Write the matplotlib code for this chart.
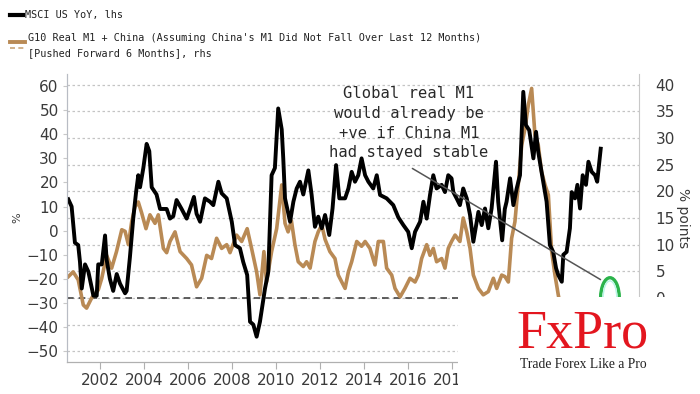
import matplotlib
matplotlib.use("Agg")
import matplotlib.pyplot as plt
from matplotlib.lines import Line2D
from matplotlib.patches import Rectangle, Ellipse

# MSCI US YoY (%), lhs
msci_years = [2000.56, 2000.71, 2000.86, 2001.01, 2001.09, 2001.17, 2001.32, 2001.47, 2001.70, 2001.85,
              2001.92, 2002.08, 2002.23, 2002.30, 2002.45, 2002.60, 2002.76, 2002.91, 2003.14, 2003.21,
              2003.36, 2003.51, 2003.64, 2003.74, 2003.82, 2003.97, 2004.12, 2004.24, 2004.35, 2004.57,
              2004.73, 2005.03, 2005.18, 2005.33, 2005.48, 2005.71, 2005.94, 2006.09, 2006.27, 2006.39,
              2006.55, 2006.77, 2007.00, 2007.15, 2007.38, 2007.53, 2007.76, 2007.99, 2008.14, 2008.36,
              2008.51, 2008.69, 2008.82, 2008.97, 2009.12, 2009.27, 2009.50, 2009.65, 2009.80, 2009.95,
              2010.10, 2010.26, 2010.33, 2010.41, 2010.64, 2010.79, 2010.94, 2011.09, 2011.24, 2011.47,
              2011.62, 2011.77, 2011.92, 2012.08, 2012.23, 2012.42, 2012.57, 2012.73, 2012.88, 2013.14,
              2013.29, 2013.44, 2013.59, 2013.74, 2013.89, 2014.05, 2014.20, 2014.42, 2014.58, 2014.73,
              2015.03, 2015.33, 2015.56, 2015.79, 2016.01, 2016.17, 2016.32, 2016.55, 2016.70, 2016.85,
              2017.00, 2017.15, 2017.30, 2017.53, 2017.68, 2017.83, 2017.98, 2018.06, 2018.21, 2018.36,
              2018.51, 2018.67, 2018.82, 2018.97, 2019.20, 2019.35, 2019.50, 2019.65, 2019.80, 2020.00,
              2020.10, 2020.28, 2020.40, 2020.48, 2020.64, 2020.79, 2020.94, 2021.09, 2021.24, 2021.36,
              2021.51, 2021.70, 2021.82, 2021.92, 2022.07, 2022.30, 2022.45, 2022.60, 2022.73, 2022.83,
              2022.99, 2023.06, 2023.21, 2023.36, 2023.44, 2023.59, 2023.70, 2023.82, 2023.94, 2024.09,
              2024.20, 2024.35, 2024.50, 2024.60, 2024.76]
msci_yoy = [13, 10, -5, -6, -13, -24, -14, -17, -27, -27,
            -14, -14, -2, -12, -20, -25, -18, -22, -26, -25,
            -11, 5, 16, 23, 18, 26, 36, 33, 18, 15,
            9, 9, 5, 6, 12.7, 9, 5, 9, 14, 7,
            3.7, 13.4, 12, 10.6, 20.3, 15.5, 13.4, 3.7, -6, -7.3,
            -13, -18.4, -37.8, -39, -44, -37.8, -24, -17, 23, 26,
            50.7, 42, 30, 13.4, 3.7, 12, 17.5, 20.3, 15, 25,
            14.8, 1.6, 5.8, 1, 6.5, -1.8, 9.2, 27.2, 13.4, 13.4,
            17.5, 24.4, 20.3, 23, 30, 23, 20.3, 17.5, 23, 14.8,
            13.4, 10.6, 5.5, 2.3, -0.5, -7.3, -0.5, 3.7, 12, 5,
            14.8, 23, 17.5, 19, 16, 23, 21.7, 16, 13.4, 10.6,
            17.5, 13.4, 6.5, -4.6, 7.8, 2.3, 9.2, 1, 9.2, 28.6,
            12, -4, 9, 12, 21.7, 10.6, 17.5, 23, 57.6, 43.8,
            41.7, 30, 41, 32.7, 24.4, 12, -6, -8.8, -15.6, -18.4,
            -21.2, -10, -8.8, 1, 16, 13.4, 19, 9.2, 23, 19,
            28.6, 24.4, 23, 20.3, 34]

# G10 Real M1 + China, pushed forward 6 months (% points), rhs
m1_years = [2000.56, 2000.78, 2001.01, 2001.24, 2001.39, 2001.62, 2001.92, 2002.08, 2002.30, 2002.53,
            2002.75, 2002.99, 2003.14, 2003.29, 2003.44, 2003.59, 2003.74, 2003.89, 2004.09, 2004.27,
            2004.50, 2004.65, 2004.88, 2005.03, 2005.18, 2005.41, 2005.64, 2005.94, 2006.16, 2006.39,
            2006.62, 2006.85, 2007.07, 2007.30, 2007.53, 2007.76, 2007.91, 2008.21, 2008.44, 2008.69,
            2008.89, 2009.12, 2009.27, 2009.45, 2009.57, 2009.80, 2010.03, 2010.26, 2010.41, 2010.55,
            2010.70, 2010.86, 2011.01, 2011.24, 2011.39, 2011.55, 2011.77, 2011.92, 2012.08, 2012.23,
            2012.45, 2012.68, 2012.83, 2012.99, 2013.14, 2013.29, 2013.44, 2013.67, 2013.89, 2014.05,
            2014.27, 2014.50, 2014.65, 2014.88, 2015.03, 2015.26, 2015.41, 2015.64, 2015.86, 2016.09,
            2016.32, 2016.47, 2016.62, 2016.85, 2017.00, 2017.15, 2017.30, 2017.53, 2017.68, 2017.83,
            2017.98, 2018.14, 2018.36, 2018.51, 2018.67, 2018.82, 2018.97, 2019.20, 2019.42, 2019.65,
            2019.88, 2020.03, 2020.26, 2020.41, 2020.56, 2020.71, 2020.86, 2021.01, 2021.17, 2021.32,
            2021.47, 2021.62, 2021.77, 2021.92, 2022.07, 2022.23, 2022.38, 2022.53, 2022.68, 2022.83,
            2023.00, 2023.30]
m1_real = [4, 4.9, 3.4, -1.3, -1.9, 0, 1.5, 3.7, 8, 5.6,
           8.7, 12.8, 12.5, 10, 14.3, 17.1, 18, 16, 13, 15.6,
           14, 15.6, 9.3, 8.5, 10.6, 12.4, 8.7, 7.4, 6.2, 2.1,
           3.7, 8, 7.4, 11.2, 9.3, 10, 8.5, 11.8, 10.6, 13,
           9.3, 4.9, 0.6, 8.7, 3, 8.7, 13, 21.2, 14, 12.4,
           14.5, 10, 6.8, 5.9, 6.8, 5.6, 10.6, 12.4, 13.7, 11,
           8.7, 7.4, 4.3, 3, 1.8, 4.9, 6.8, 10.6, 9.7, 10.6,
           9.3, 6.2, 10.6, 10.6, 5.6, 4.3, 1.8, 0.2, 1.8, 3.7,
           3, 4.3, 7.4, 10, 8, 9.3, 6.8, 7.4, 5.6, 9.3,
           10.6, 11.8, 10.6, 15, 12.4, 9.3, 4.3, 1.8, 0.6, 1.2,
           3.7, 1.8, 4.3, 4, 3, 11.2, 14.3, 21.2, 28.7, 31.8,
           36.2, 39.3, 30.6, 28.7, 23.7, 21.2, 19.3, 8.7, 4.3, 0.6,
           -3, -5]

lhs_ticks = list(range(-50, 61, 10))
rhs_ticks = list(range(-10, 41, 5))
year_ticks = list(range(2002, 2027, 2))

grey = "#3a3a3a"

fig = plt.figure(figsize=(7, 3.94), dpi=100)
ax = fig.add_axes([67 / 700, 1 - 362 / 394, 572 / 700, 288 / 394])
ax2 = ax.twinx()

# right axis: grid + brown series
ax2.set_ylim(-12, 42)
ax2.set_yticks(rhs_ticks)
ax2.yaxis.grid(True, color="#c4c4c4", lw=0.9, linestyle=(0, (2, 2)))
ax2.axhline(0, color="#444444", lw=1.2, linestyle=(0, (4, 3)))
ax2.plot(m1_years, m1_real, color="#b98a55", lw=2.6, solid_joinstyle="round")
ax2.tick_params(axis="y", length=0, pad=12, labelsize=11, labelcolor=grey)
ax2.set_ylabel("% points", rotation=270, fontsize=10, color=grey, labelpad=2)

# left axis: black series on top
ax.set_zorder(ax2.get_zorder() + 1)
ax.patch.set_visible(False)
ax.plot(msci_years, msci_yoy, color="black", lw=2.8, solid_joinstyle="round")
ax.set_ylim(-54.5, 65)
ax.set_yticks(lhs_ticks)
ax.set_xlim(2000.5, 2026.5)
ax.set_xticks(year_ticks)
ax.tick_params(axis="y", length=3, color="#c8c8c8", pad=3, labelsize=11, labelcolor=grey)
ax.tick_params(axis="x", length=5, color="#b0b0b0", pad=3, labelsize=11, labelcolor=grey)
ax.set_ylabel("%", fontsize=8, color=grey, labelpad=3)

for a in (ax, ax2):
    for s in a.spines.values():
        s.set_visible(False)
    a.spines["left"].set_visible(True)
    a.spines["left"].set_color("#b8bcc4")
    a.spines["bottom"].set_visible(True)
    a.spines["bottom"].set_color("#b0b0b0")
ax2.spines["right"].set_visible(True)
ax2.spines["right"].set_color("#c8c8c8")

# annotation
ax.annotate("", xy=(2024.86, -20.9), xytext=(2016.09, 26.4),
            arrowprops=dict(arrowstyle="-", color="#555555", lw=1.1))
ax.text(2016.05, 44.6, "Global real M1\nwould already be\n+ve if China M1\nhad stayed stable",
        family="DejaVu Sans Mono", fontsize=11.2, color="#2a2a2a", ha="center", va="center",
        linespacing=1.4, zorder=5)
ax2.add_patch(Ellipse((2025.18, 0), 0.85, 7.6, fill=False, ec="#2bb34b", lw=2.4, zorder=6))
ax2.add_patch(Ellipse((2025.18, 0), 0.62, 6.4, fill=False, ec="#b8f5e6", lw=1.0, zorder=6))

# legend
mono = "DejaVu Sans Mono"
fig.add_artist(Line2D([10 / 700, 23 / 700], [1 - 15 / 394] * 2, color="black", lw=3))
fig.text(25 / 700, 1 - 15 / 394, "MSCI US YoY, lhs", family=mono, fontsize=7.3,
         color="#222222", va="center")
fig.add_artist(Line2D([10 / 700, 25 / 700], [1 - 42 / 394] * 2, color="#b98a55", lw=2.8))
fig.add_artist(Line2D([10 / 700, 25 / 700], [1 - 48 / 394] * 2, color="#c9a57a", lw=1.2,
                      linestyle=(0, (3, 2))))
fig.text(28 / 700, 1 - 38 / 394,
         "G10 Real M1 + China (Assuming China's M1 Did Not Fall Over Last 12 Months)",
         family=mono, fontsize=7.3, color="#222222", va="center")
fig.text(28 / 700, 1 - 53 / 394, "[Pushed Forward 6 Months], rhs",
         family=mono, fontsize=7.3, color="#222222", va="center")

# white cover box with logo
fig.add_artist(Rectangle((458 / 700, 0), 1, 97 / 394, transform=fig.transFigure,
                         facecolor="white", edgecolor="none", zorder=10))
fig.text(516 / 700, 1 - 348 / 394, "FxPro", family="Liberation Serif", fontsize=39,
         color="#e3161f", va="baseline", zorder=11)
fig.text(520 / 700, 1 - 365 / 394, "Trade Forex Like a Pro", family="Liberation Serif",
         fontsize=9.8, color="#222222", va="center", zorder=11)

fig.savefig("out.png", dpi=100, facecolor="white")
